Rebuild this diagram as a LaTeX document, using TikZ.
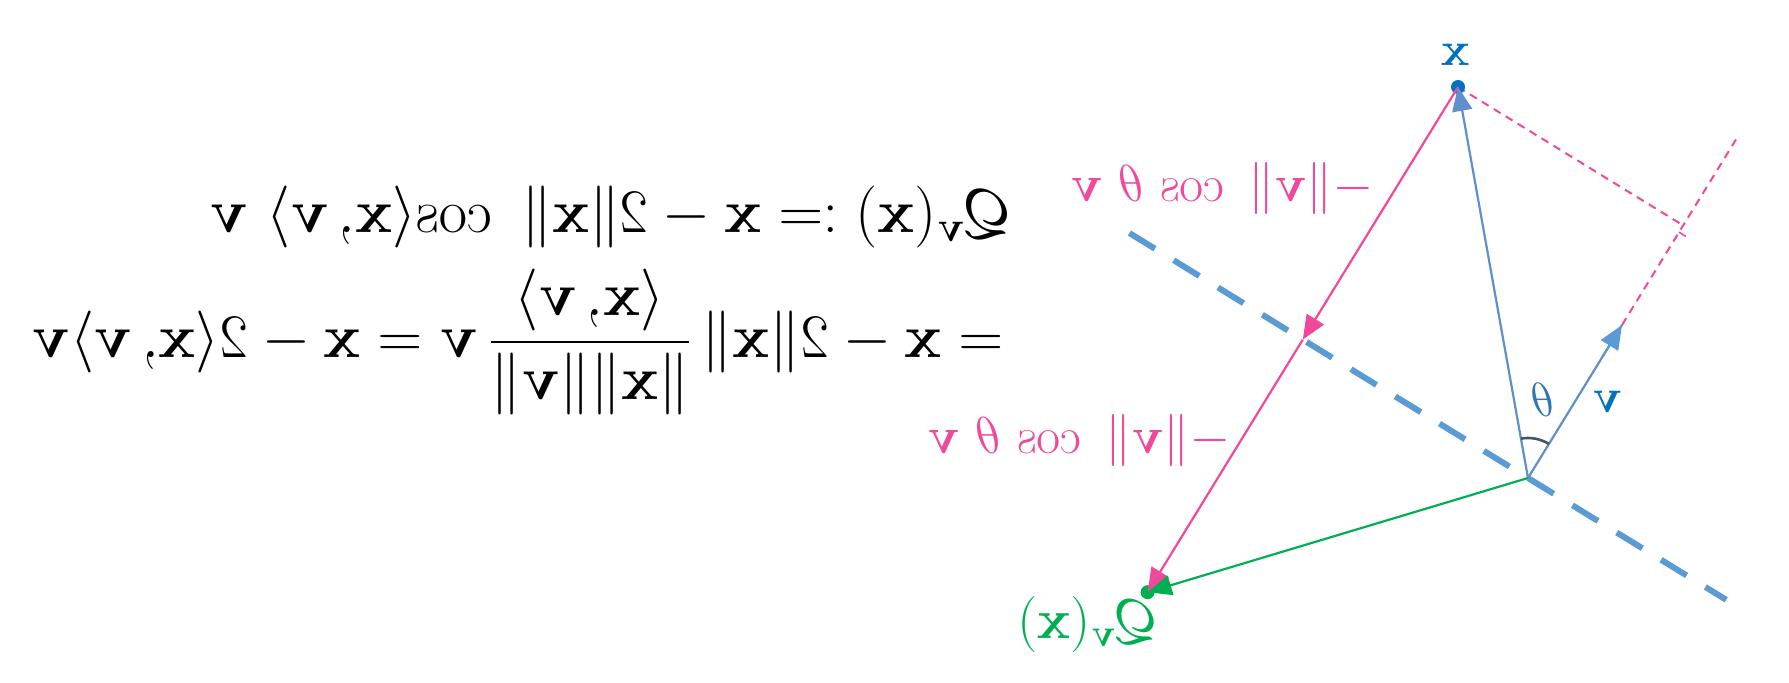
\RequirePackage{fix-cm}
\documentclass[tikz,border=0pt]{standalone}
\usepackage{amsmath}
\usepackage{graphicx}
\usetikzlibrary{calc,arrows.meta,angles}
\definecolor{pk}{HTML}{F0489A}
\definecolor{gr}{HTML}{00B050}
\definecolor{hb}{HTML}{5B9BD5}
\definecolor{vb}{HTML}{5F8FCC}
\definecolor{lb}{HTML}{0070C0}
\definecolor{tb}{HTML}{2E75B6}
\definecolor{ang}{HTML}{44546A}
\newcommand\mirr[1]{\reflectbox{#1}}
\tikzset{
  tri/.style={-{Triangle[length=12pt,width=10pt]}},
  hyper/.style={hb,line width=3pt,dash pattern=on 15pt off 11pt},
  pkdash/.style={pk,line width=1pt,dash pattern=on 4pt off 3pt},
  vec/.style={vb,line width=1.1pt},
  pkvec/.style={pk,line width=1.1pt},
  grvec/.style={gr,line width=1.1pt},
  formula/.style={inner sep=0pt,font=\fontsize{31}{37}\selectfont},
  pklabel/.style={pk,inner sep=0pt,font=\fontsize{26}{31}\selectfont},
}
\begin{document}
\begin{tikzpicture}[x=0.5pt,y=0.5pt]
\useasboundingbox (0,0) rectangle (1789,682);
\coordinate (O) at (1528,204);
\coordinate (X) at (1458,595);
\coordinate (V) at (1622,357);
\coordinate (F) at ($(O)!(X)!(V)$);
\coordinate (M) at ($(X)+(O)-(F)$);
\coordinate (Q) at ($(X)+2*(O)-2*(F)$);
\coordinate (H1) at ($(O)!1.77!(M)$);
\coordinate (H2) at ($(O)!-0.88!(M)$);
\coordinate (E) at ($(O)!1.34!(F)$);
% hyperplane
\draw[hyper] (H1) -- (H2);
% projection lines
\draw[pkdash] (X) -- (F);
\draw[pkdash] (V) -- (E);
\draw[pk,line width=0.8pt] ($(F)!4pt!(O)$) -- ($(F)!4pt!(O)!4pt!90:(O)$);
% dots
\fill[lb] (X) circle (3.5pt);
\fill[gr] (Q) circle (3.5pt);
% vectors
\draw[vec,tri] (O) -- (X);
\draw[vec] (O) -- (V);
\draw[hb,tri,line width=1.1pt] ($(O)!0.8!(V)$) -- (V);
\draw[pkvec,tri] (X) -- (M);
\draw[pkvec,tri] (M) -- (Q);
\draw[grvec,tri] (O) -- (Q);
% angle
\pic[draw=ang,line width=1.3pt,angle radius=20pt] {angle=V--O--X};
% labels
\node[lb,inner sep=0pt,font=\fontsize{24}{28}\selectfont] (xl) at (1455,627) {\mirr{$\mathbf{x}$}};
\node[lb,inner sep=0pt,font=\fontsize{24}{28}\selectfont] (vl) at (1607,280) {\mirr{$\mathbf{v}$}};
\node[tb,inner sep=0pt,font=\fontsize{24}{28}\selectfont] (tl) at (1542,282) {\mirr{$\theta$}};
\node[pklabel] (p1) at (1222,494) {\mirr{$-\|\mathbf{v}\|\ \cos\,\theta\ \mathbf{v}$}};
\node[pklabel] (p2) at (1079,242) {\mirr{$-\|\mathbf{v}\|\ \cos\,\theta\ \mathbf{v}$}};
\node[gr,inner sep=0pt,font=\fontsize{28}{33}\selectfont] (ql) at (1089,58) {\mirr{$\mathcal{Q}_{\mathbf{v}}(\mathbf{x})$}};
% formulas
\node[formula,anchor=base east] (f1) at (1015,450)
  {\mirr{$\mathcal{Q}_{\mathbf{v}}(\mathbf{x}) := \mathbf{x} - 2\|\mathbf{x}\|\ \cos\langle\mathbf{x},\mathbf{v}\rangle\ \mathbf{v}$}};
\node[formula,anchor=east] (f2) at (1004,340)
  {\mirr{$= \mathbf{x} - 2\|\mathbf{x}\|\,\dfrac{\langle\mathbf{x},\mathbf{v}\rangle}{\|\mathbf{x}\|\|\mathbf{v}\|}\,\mathbf{v} = \mathbf{x} - 2\langle\mathbf{x},\mathbf{v}\rangle\mathbf{v}$}};
\end{tikzpicture}
\end{document}
